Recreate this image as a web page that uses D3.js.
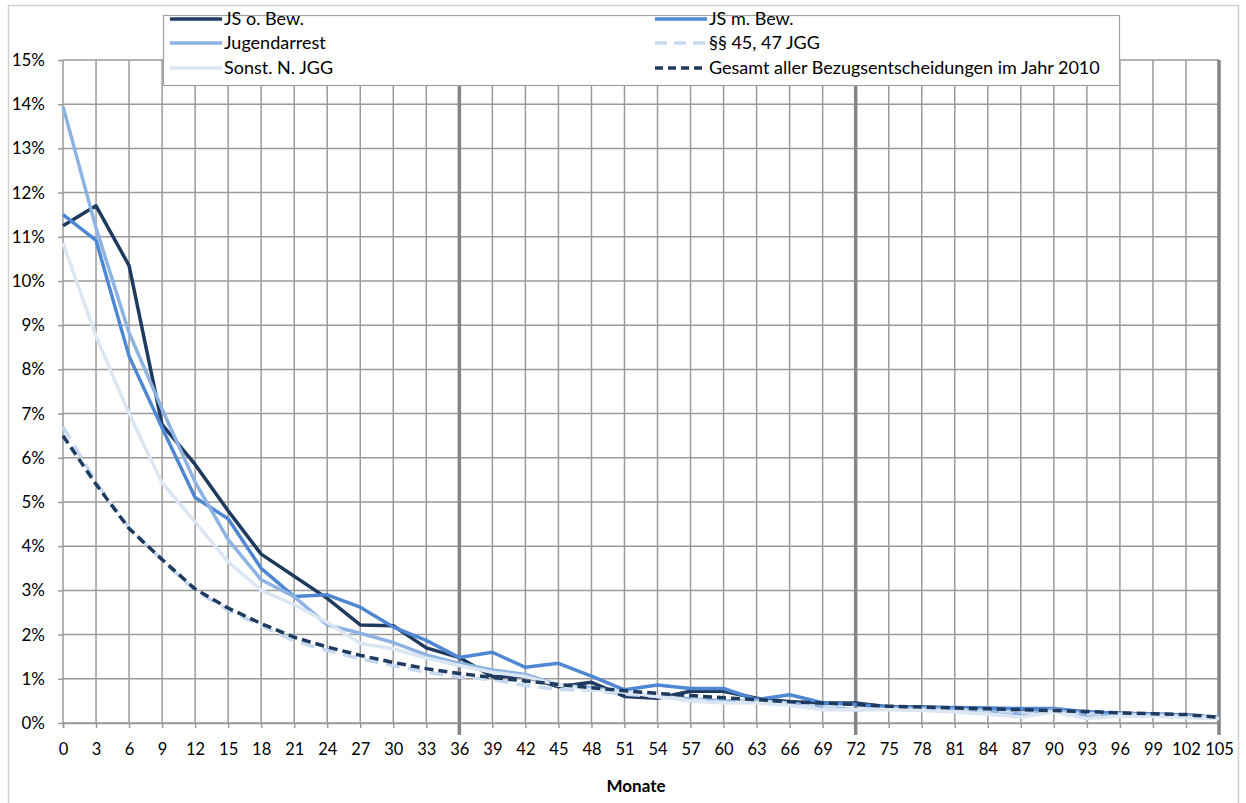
<!DOCTYPE html>
<html><head><meta charset="utf-8">
<script src="https://cdn.jsdelivr.net/npm/d3@7"></script>
<style>
html,body{margin:0;padding:0;background:#fff;}
text{font-family:Lato,"Open Sans",sans-serif;fill:#000;}
</style></head>
<body><svg id="c" width="1246" height="803"></svg>
<script>
const months = [0,3,6,9,12,15,18,21,24,27,30,33,36,39,42,45,48,51,54,57,60,63,66,69,72,75,78,81,84,87,90,93,96,99,102,105];
const yTicks = [0,1,2,3,4,5,6,7,8,9,10,11,12,13,14,15];
const heavyMonths = [36,72,105];

const jsOhne = [11.25,11.7,10.35,6.75,5.85,4.8,3.82,3.32,2.82,2.22,2.2,1.7,1.48,1.05,1.05,0.82,0.92,0.6,0.56,0.72,0.72,0.56,0.48,0.45,0.45,0.36,0.36,0.34,0.33,0.31,0.3,0.25,0.22,0.2,0.18,0.12];
const jsMit = [11.5,10.92,8.3,6.68,5.1,4.62,3.5,2.86,2.9,2.62,2.17,1.87,1.48,1.6,1.26,1.35,1.06,0.75,0.86,0.78,0.78,0.53,0.64,0.46,0.42,0.36,0.35,0.35,0.34,0.33,0.33,0.25,0.22,0.2,0.18,0.12];
const jugendarrest = [13.95,11.2,8.83,7.1,5.45,4.15,3.24,2.86,2.22,2.03,1.82,1.54,1.35,1.2,1.1,0.86,0.8,0.7,0.6,0.55,0.5,0.5,0.45,0.36,0.3,0.33,0.33,0.3,0.28,0.2,0.3,0.16,0.2,0.18,0.15,0.12];
const par4547 = [6.7,5.45,4.42,3.68,3.0,2.55,2.2,1.86,1.64,1.45,1.3,1.15,1.04,0.98,0.85,0.76,0.74,0.65,0.6,0.54,0.46,0.5,0.44,0.36,0.3,0.32,0.3,0.28,0.27,0.24,0.25,0.21,0.2,0.18,0.15,0.12];
const sonst = [10.86,8.75,7.0,5.43,4.55,3.65,3.0,2.68,2.28,1.8,1.68,1.47,1.3,1.15,1.05,0.86,0.75,0.7,0.6,0.5,0.45,0.45,0.4,0.3,0.3,0.3,0.28,0.25,0.2,0.13,0.25,0.1,0.15,0.15,0.12,0.1];
const gesamt = [6.5,5.4,4.4,3.7,3.03,2.6,2.25,1.94,1.72,1.53,1.37,1.23,1.12,1.03,0.95,0.87,0.8,0.73,0.67,0.62,0.57,0.53,0.48,0.45,0.42,0.38,0.36,0.34,0.32,0.3,0.28,0.26,0.23,0.21,0.19,0.13];

const seriesNames = ["JS o. Bew.","JS m. Bew.","Jugendarrest","§§ 45, 47 JGG","Sonst. N. JGG","Gesamt aller Bezugsentscheidungen im Jahr 2010"];
const seriesData = [jsOhne, jsMit, jugendarrest, par4547, sonst, gesamt];
const seriesColors = ["#1F3A5F","#4F87D3","#8DB3E2","#C6D9F1","#DCE6F2","#1F3A5F"];
const seriesDash = [null,null,null,"14,8",null,"9,5"];

const svg = d3.select("#c");
const L = 63, R = 1219, T = 60, B = 723;
const x = d3.scaleLinear().domain([0,105]).range([L,R]);
const y = d3.scaleLinear().domain([0,15]).range([B,T]);

// outer chart border
svg.append("rect").attr("x",8.5).attr("y",5.5).attr("width",1230).attr("height",820)
  .attr("fill","#fff").attr("stroke","#d0d0d0").attr("stroke-width",1.5);

// horizontal gridlines
svg.append("g").selectAll("line").data(yTicks).join("line")
  .attr("x1",L).attr("x2",R).attr("y1",d=>y(d)).attr("y2",d=>y(d))
  .attr("stroke","#9a9a9a").attr("stroke-width",1.5);
// vertical gridlines
svg.append("g").selectAll("line").data(months.filter(m=>!heavyMonths.includes(m))).join("line")
  .attr("x1",d=>x(d)).attr("x2",d=>x(d)).attr("y1",T).attr("y2",B)
  .attr("stroke","#9a9a9a").attr("stroke-width",1.5);

// y axis ticks and labels
const yAxis = d3.axisLeft(y).tickValues(yTicks).tickFormat(d=>d+"%").tickSize(5).tickPadding(13);
const gy = svg.append("g").attr("transform",`translate(${L},0)`).call(yAxis);
gy.select(".domain").remove();
gy.selectAll(".tick line").attr("stroke","#9a9a9a").attr("stroke-width",1.5);
gy.selectAll(".tick text").attr("font-size",17).attr("font-family","Lato");

// x axis
const xAxis = d3.axisBottom(x).tickValues(months).tickFormat(d=>d).tickSize(5).tickPadding(15);
const gx = svg.append("g").attr("transform",`translate(0,${B})`).call(xAxis);
gx.select(".domain").attr("stroke","#9a9a9a").attr("stroke-width",1.5);
gx.selectAll(".tick line").attr("stroke","#9a9a9a").attr("stroke-width",1.5);
gx.selectAll(".tick text").attr("font-size",16.5).attr("font-family","Lato");

// heavy vertical lines
svg.append("g").selectAll("line").data(heavyMonths).join("line")
  .attr("x1",d=>x(d)).attr("x2",d=>x(d)).attr("y1",T).attr("y2",B+12)
  .attr("stroke","#858585").attr("stroke-width",3.5);

// series lines
const line = d3.line().x((d,i)=>x(months[i])).y(d=>y(d));
seriesData.forEach((s,i)=>{
  svg.append("path").datum(s).attr("d",line).attr("fill","none")
    .attr("stroke",seriesColors[i]).attr("stroke-width",3.5)
    .attr("stroke-linejoin","round")
    .attr("stroke-dasharray",seriesDash[i]);
});

// axis title
svg.append("text").attr("x",636).attr("y",792).attr("text-anchor","middle")
  .attr("font-size",17).attr("font-weight","bold").text("Monate");

// legend
const lg = svg.append("g");
lg.append("rect").attr("x",163.5).attr("y",15.5).attr("width",956).attr("height",70)
  .attr("fill","#fff").attr("stroke","#a0a0a0").attr("stroke-width",1.2);
const legPos = [[170,19],[655,19],[170,43],[655,43],[170,68],[655,68]];
seriesNames.forEach((n,i)=>{
  const [lx,ly] = legPos[i];
  lg.append("line").attr("x1",lx).attr("x2",lx+52).attr("y1",ly).attr("y2",ly)
    .attr("stroke",seriesColors[i]).attr("stroke-width",3.5)
    .attr("stroke-dasharray",seriesDash[i]===null?null:(i===3?"12,7":"8,5"));
  lg.append("text").attr("x",lx+54).attr("y",ly).attr("dy","0.35em")
    .attr("font-size",18).text(n);
});
</script></body></html>
